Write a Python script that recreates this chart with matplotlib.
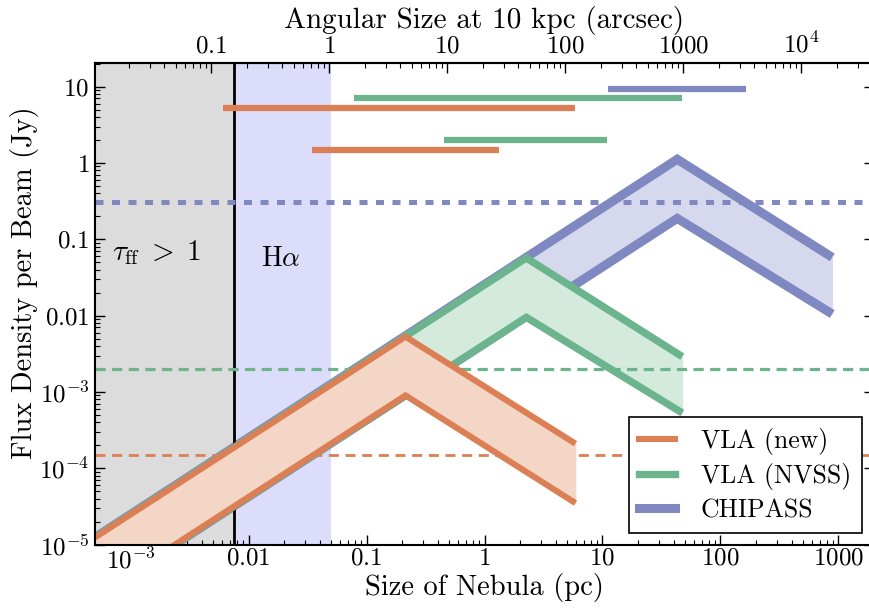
import numpy as np
import matplotlib
matplotlib.use("Agg")
import matplotlib.pyplot as plt
from matplotlib.ticker import FixedLocator, FixedFormatter, LogLocator, NullFormatter

plt.rcParams['font.family'] = ['cmr10', 'DejaVu Serif']
plt.rcParams['mathtext.fontset'] = 'cm'
plt.rcParams['axes.formatter.use_mathtext'] = True

# ---------------- data ----------------
series_names = ["VLA (new)", "VLA (NVSS)", "CHIPASS"]
# band vertices: size (pc) -> flux density (Jy)
band_x = {
    "VLA (new)":  [5e-4, 0.214, 5.9],
    "VLA (NVSS)": [5e-4, 2.26, 47.5],
    "CHIPASS":    [5e-4, 43.0, 885.0],
}
band_upper = {
    "VLA (new)":  [1.24e-5, 5.3e-3, 2.1e-4],
    "VLA (NVSS)": [1.24e-5, 0.057, 2.9e-3],
    "CHIPASS":    [1.24e-5, 1.12, 0.058],
}
band_lower = {
    "VLA (new)":  [2.1e-6, 9.0e-4, 3.5e-5],
    "VLA (NVSS)": [2.1e-6, 9.5e-3, 5.3e-4],
    "CHIPASS":    [2.1e-6, 0.188, 0.0105],
}
# sensitivity limits (Jy)
sens_limit = {"VLA (new)": 1.5e-4, "VLA (NVSS)": 2.0e-3, "CHIPASS": 0.31}
# angular scale ranges (pc) shown as bars at top
range_series = ["CHIPASS", "VLA (NVSS)", "VLA (new)", "VLA (NVSS)", "VLA (new)"]
range_lo = [11.2, 0.078, 0.0061, 0.455, 0.0342]
range_hi = [166.0, 47.6, 5.9, 11.0, 1.34]
range_y = [9.4, 7.2, 5.3, 2.0, 1.5]

tau_limit = 0.0075   # pc
halpha_limit = 0.05  # pc
pc_to_arcsec = 20.6265  # at 10 kpc

xticks = [1e-3, 1e-2, 1e-1, 1, 10, 100, 1000]
xticklabels = [r'$10^{-3}$', r'$0.01$', r'$0.1$', r'$1$', r'$10$', r'$100$', r'$1000$']
yticks = [1e-5, 1e-4, 1e-3, 1e-2, 1e-1, 1, 10]
yticklabels = [r'$10^{-5}$', r'$10^{-4}$', r'$10^{-3}$', r'$0.01$', r'$0.1$', r'$1$', r'$10$']
topticks = [0.1, 1, 10, 100, 1000, 1e4]
toplabels = [r'$0.1$', r'$1$', r'$10$', r'$100$', r'$1000$', r'$10^4$']

# ---------------- styles ----------------
line_col = {"VLA (new)": "#dc7f54", "VLA (NVSS)": "#6cb48d", "CHIPASS": "#8088c2"}
fill_col = {"VLA (new)": "#f4d6c7", "VLA (NVSS)": "#d3eadd", "CHIPASS": "#d6d9ee"}
band_lw = {"VLA (new)": 4.4, "VLA (NVSS)": 5.3, "CHIPASS": 6.5}
dash_lw = {"VLA (new)": 2.0, "VLA (NVSS)": 2.3, "CHIPASS": 3.6}
dash_pat = {"VLA (new)": (3.6, 2.4), "VLA (NVSS)": (3.2, 2.0), "CHIPASS": (1.6, 1.7)}
zbase = {"CHIPASS": 3, "VLA (NVSS)": 5, "VLA (new)": 7}

fig = plt.figure(figsize=(8.7, 6.1), dpi=100)
ax = fig.add_axes([95/870, (610-544.6)/610, 779/870, 481.4/610])
ax.set_xscale('log')
ax.set_yscale('log')
ax.set_xlim(5e-4, 2e3)
ax.set_ylim(1e-5, 20.3)

ax.axvspan(5e-4, tau_limit, color='#dcdcdc', zorder=0, lw=0)
ax.axvspan(tau_limit, halpha_limit, color='#dcdcfb', zorder=0, lw=0)

for name in ["CHIPASS", "VLA (NVSS)", "VLA (new)"]:
    z = zbase[name]
    ax.fill_between(band_x[name], band_lower[name], band_upper[name],
                    color=fill_col[name], lw=0.5, edgecolor=fill_col[name], zorder=z)
    for yy in (band_upper[name], band_lower[name]):
        ax.plot(band_x[name], yy, color=line_col[name], lw=band_lw[name],
                solid_joinstyle='miter', solid_capstyle='butt', zorder=z + 1.5)

ax.axvline(tau_limit, color='black', lw=2, zorder=6.2)

for name in series_names:
    ax.axhline(sens_limit[name], color=line_col[name], lw=dash_lw[name],
               dashes=dash_pat[name], zorder=6.3)

for s, lo, hi, yv in zip(range_series, range_lo, range_hi, range_y):
    ax.plot([lo, hi], [yv, yv], color=line_col[s], lw=4.5, solid_capstyle='butt', zorder=9)

ax.text(1.65e-3, 0.067, r'$\tau_{\rm ff}\;>\;1$', fontsize=21, ha='center', va='center', zorder=10)
ax.text(0.0187, 0.056, r'H$\alpha$', fontsize=20, ha='center', va='center', zorder=10)

# legend
handles = [plt.Line2D([], [], color=line_col[n], lw=band_lw[n]) for n in series_names]
leg = ax.legend(handles, series_names, loc='lower right', fontsize=18.5, frameon=True,
                fancybox=False, edgecolor='black', framealpha=1, handlelength=1.4,
                handletextpad=1.0, borderpad=0.42, borderaxespad=0.0, labelspacing=0.33,
                bbox_to_anchor=((862 - 95) / 779, (544.6 - 533) / 481.4))
leg.get_frame().set_linewidth(1.2)
leg.set_zorder(20)

# ticks
ax.xaxis.set_major_locator(FixedLocator(xticks))
ax.xaxis.set_major_formatter(FixedFormatter(xticklabels))
ax.xaxis.set_minor_locator(LogLocator(base=10, subs=np.arange(2, 10), numticks=20))
ax.xaxis.set_minor_formatter(NullFormatter())
ax.yaxis.set_major_locator(FixedLocator(yticks))
ax.yaxis.set_major_formatter(FixedFormatter(yticklabels))
ax.yaxis.set_minor_locator(LogLocator(base=10, subs=np.arange(2, 10), numticks=20))
ax.yaxis.set_minor_formatter(NullFormatter())
ax.tick_params(which='both', direction='in', top=False, right=True, labelsize=18)
ax.tick_params(which='major', length=7, width=1)
ax.tick_params(which='minor', length=3.5, width=0.8)
ax.tick_params(axis='x', pad=2)
ax.tick_params(axis='y', pad=4)
for sp in ax.spines.values():
    sp.set_linewidth(1.5)
    sp.set_zorder(25)

sec = ax.secondary_xaxis('top', functions=(lambda x: x * pc_to_arcsec, lambda a: a / pc_to_arcsec))
sec.xaxis.set_major_locator(FixedLocator(topticks))
sec.xaxis.set_major_formatter(FixedFormatter(toplabels))
sec.xaxis.set_minor_locator(LogLocator(base=10, subs=np.arange(2, 10), numticks=20))
sec.xaxis.set_minor_formatter(NullFormatter())
sec.tick_params(which='both', direction='in', labelsize=18, pad=4)
sec.tick_params(which='major', length=7, width=1)
sec.tick_params(which='minor', length=3.5, width=0.8)
sec.spines['top'].set_linewidth(1.5)
sec.set_xlabel('Angular Size at 10 kpc (arcsec)', fontsize=21, labelpad=3)

ax.set_xlabel('Size of Nebula (pc)', fontsize=20.5, labelpad=0)
ax.set_ylabel('Flux Density per Beam (Jy)', fontsize=20.5)
ax.yaxis.set_label_coords(-0.072, 0.545)

fig.savefig('out.png', dpi=100)
